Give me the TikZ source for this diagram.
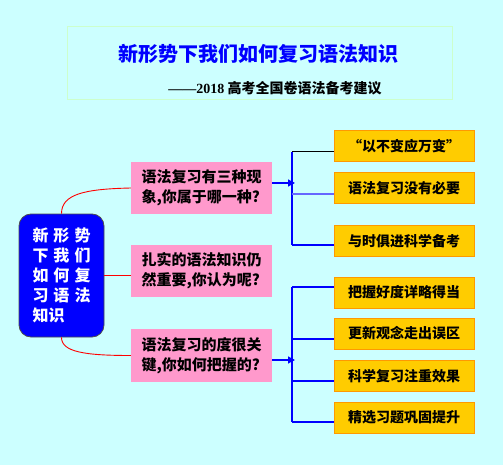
\documentclass[tikz,border=0pt]{standalone}
\usepackage{fontspec}
\setmainfont{Noto Sans CJK SC}
\newfontfamily\lser{Liberation Serif}
\usetikzlibrary{arrows.meta}
\definecolor{bgc}{HTML}{CCFFFF}
\definecolor{tborder}{HTML}{CCFFCC}
\definecolor{pinkc}{HTML}{FF99CC}
\definecolor{orc}{HTML}{FFCC00}
\definecolor{orb}{HTML}{FF9900}
\definecolor{lblue}{HTML}{6666FF}
\tikzset{
  pinkbox/.style={fill=pinkc, minimum width=141pt, align=left, inner sep=0pt, font=\bfseries\fontsize{15pt}{20pt}\selectfont},
  orbox/.style={fill=orc, draw=orb, line width=1pt, minimum width=140pt, minimum height=31pt, inner sep=0pt, font=\bfseries\fontsize{14pt}{16pt}\selectfont},
  redline/.style={red, line width=0.9pt},
  brline/.style={blue, line width=1.2pt},
  arr/.style={blue, line width=1.2pt, -{Triangle[length=7pt,width=7pt]}, shorten >=-3pt}
}
\newcommand{\gp}{\hspace{5pt}}
\begin{document}
\begin{tikzpicture}[x=1pt,y=-1pt]
\fill[bgc] (0,0) rectangle (503,465);
\useasboundingbox (0,0) rectangle (503,465);
% title
\node[draw=tborder, line width=1pt, minimum width=385pt, minimum height=73pt] (tb) at (259.5,63.5) {};
\node[text=blue, font=\bfseries\fontsize{20pt}{22pt}\selectfont] (title) at (258.5,54) {新形势下我们如何复习语法知识};
\node[font=\bfseries\fontsize{14pt}{16pt}\selectfont] (sub) at (275,88) {{\lser ——2018} 高考全国卷语法备考建议};
% left box
\node[fill=blue, draw=black!70, line width=0.8pt, rounded corners=12pt, minimum width=85pt, minimum height=123pt] (L) at (61.5,275.5) {};
\node[text=white, align=left, font=\bfseries\fontsize{16pt}{20pt}\selectfont, inner sep=0pt] (Lt) at (61.5,275.5) {新\gp 形\gp 势\\下\gp 我\gp 们\\如\gp 何\gp 复\\习\gp 语\gp 法\\知识};
% pink boxes
\node[pinkbox, minimum height=52pt] (p1) at (201.5,188) {语法复习有三种现\\象,你属于哪一种?};
\node[pinkbox, minimum height=52pt] (p2) at (201.5,271) {扎实的语法知识仍\\然重要,你认为呢?};
\node[pinkbox, minimum height=53pt] (p3) at (201.5,355.5) {语法复习的度很关\\键,你如何把握的?};
% orange boxes
\node[orbox] (o1) at (404,146.5) {“以不变应万变”};
\node[orbox] (o2) at (404,188.5) {语法复习没有必要};
\node[orbox] (o3) at (404,241) {与时俱进科学备考};
\node[orbox] (o4) at (404,292.5) {把握好度详略得当};
\node[orbox] (o5) at (404,333.5) {更新观念走出误区};
\node[orbox] (o6) at (404,376) {科学复习注重效果};
\node[orbox] (o7) at (404,417.5) {精选习题巩固提升};
% red connectors
\draw[redline] (L.north) .. controls (61.5,194) and (85,189) .. (p1.west);
\draw[redline] (L.east) -- (L.east -| p2.west);
\draw[redline] (L.south) .. controls (61.5,352) and (85,355.5) .. (p3.west);
% upper bracket
\coordinate (u1) at (292,152);
\coordinate (u2) at (292,194);
\coordinate (u3) at (292,245);
\coordinate (ua) at (292,183);
\draw[brline] (u1) -- (u3);
\draw[black, line width=1pt] (u1) -- (u1 -| o1.west);
\draw[lblue, line width=2pt] (u2) -- (u2 -| o2.west);
\draw[brline] (u3) -- (u3 -| o3.west);
\draw[arr] (p1.east |- ua) -- (ua);
% lower bracket
\coordinate (d1) at (292,287);
\coordinate (d2) at (292,339);
\coordinate (d3) at (292,381);
\coordinate (d4) at (292,422);
\coordinate (da) at (292,360);
\draw[brline] (d1) -- (d4);
\draw[brline] (d1) -- (d1 -| o4.west);
\draw[brline] (d2) -- (d2 -| o5.west);
\draw[brline] (d3) -- (d3 -| o6.west);
\draw[brline] (d4) -- (d4 -| o7.west);
\draw[arr] (p3.east |- da) -- (da);
\end{tikzpicture}
\end{document}
